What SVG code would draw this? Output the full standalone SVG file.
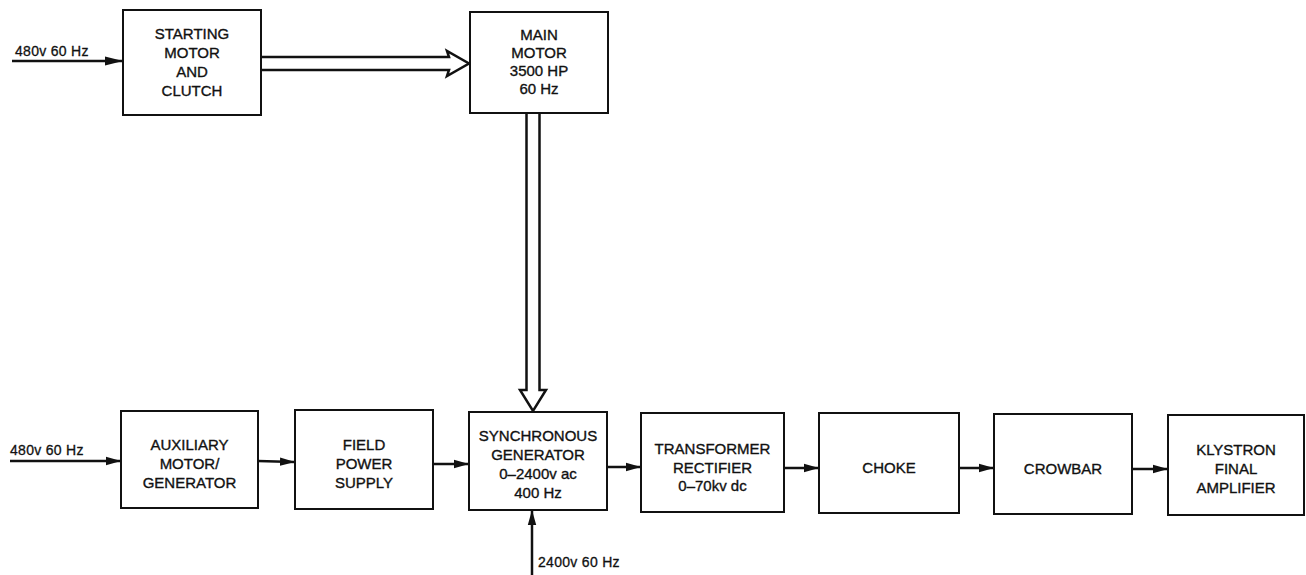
<svg xmlns="http://www.w3.org/2000/svg" width="1306" height="575" viewBox="0 0 1306 575">
<defs>
<marker id="ah" markerWidth="15" markerHeight="10" refX="14" refY="5" orient="auto" markerUnits="userSpaceOnUse">
<path d="M0,0.8 L15,5 L0,9.2 Z" fill="#111"/>
</marker>
<marker id="ahL" markerWidth="18" markerHeight="10" refX="17" refY="5" orient="auto" markerUnits="userSpaceOnUse">
<path d="M0,0.5 L18,5 L0,9.5 Z" fill="#111"/>
</marker>
<style>
.box{fill:#fff;stroke:#111;stroke-width:2}
.t{font-family:"Liberation Sans",Arial,sans-serif;font-size:15px;fill:#111;stroke:#111;stroke-width:0.35;text-anchor:middle}
.lbl{font-family:"Liberation Sans",Arial,sans-serif;font-size:14px;letter-spacing:0.3px;fill:#111;stroke:#111;stroke-width:0.3}
.ln{stroke:#111;stroke-width:2.5;fill:none}
.dbl{stroke:#111;stroke-width:2.5;fill:#fff;stroke-linejoin:miter}
</style>
</defs>
<rect width="1306" height="575" fill="#fff"/>
<g id="connectors">
<line class="ln" x1="12" y1="61" x2="122" y2="61" marker-end="url(#ahL)"/>
<line class="ln" x1="10" y1="461" x2="120" y2="461" marker-end="url(#ah)"/>
<line class="ln" x1="258" y1="461" x2="294" y2="462" marker-end="url(#ah)"/>
<line class="ln" x1="433" y1="464" x2="468" y2="464" marker-end="url(#ah)"/>
<line class="ln" x1="607" y1="467" x2="640" y2="467" marker-end="url(#ah)"/>
<line class="ln" x1="784" y1="468" x2="818" y2="468" marker-end="url(#ah)"/>
<line class="ln" x1="959" y1="468" x2="993" y2="468" marker-end="url(#ah)"/>
<line class="ln" x1="1132" y1="469" x2="1167" y2="469" marker-end="url(#ah)"/>
<line class="ln" x1="532" y1="575" x2="532" y2="511" marker-end="url(#ah)"/>
<path class="dbl" d="M262,57 L449,57 L447,51 L469,63.5 L447,76 L449,70 L262,70"/>
<path class="dbl" d="M526.5,114 L526.5,390 L520,390 L533,411 L546,390 L539.5,390 L539.5,114"/>
<text class="lbl" x="15" y="56">480v 60 Hz</text>
<text class="lbl" x="10" y="455">480v 60 Hz</text>
<text class="lbl" x="538" y="567">2400v 60 Hz</text>
</g>
<g id="starting-motor">
<rect class="box" x="123" y="10" width="138" height="105"/>
<text class="t" x="192" y="39">STARTING</text>
<text class="t" x="192" y="58">MOTOR</text>
<text class="t" x="192" y="77">AND</text>
<text class="t" x="192" y="96">CLUTCH</text>
</g>
<g id="main-motor">
<rect class="box" x="470" y="12" width="138" height="101"/>
<text class="t" x="539" y="40">MAIN</text>
<text class="t" x="539" y="58">MOTOR</text>
<text class="t" x="539" y="76">3500 HP</text>
<text class="t" x="539" y="94">60 Hz</text>
</g>
<g id="aux-motor">
<rect class="box" x="121" y="411" width="137" height="97"/>
<text class="t" x="189.5" y="450">AUXILIARY</text>
<text class="t" x="189.5" y="469">MOTOR/</text>
<text class="t" x="189.5" y="488">GENERATOR</text>
</g>
<g id="field-power">
<rect class="box" x="295" y="410" width="138" height="99"/>
<text class="t" x="364" y="450">FIELD</text>
<text class="t" x="364" y="469">POWER</text>
<text class="t" x="364" y="488">SUPPLY</text>
</g>
<g id="sync-gen">
<rect class="box" x="469" y="412" width="138" height="98"/>
<text class="t" x="538" y="441">SYNCHRONOUS</text>
<text class="t" x="538" y="460">GENERATOR</text>
<text class="t" x="538" y="479">0–2400v ac</text>
<text class="t" x="538" y="498">400 Hz</text>
</g>
<g id="transformer">
<rect class="box" x="641" y="413" width="143" height="99"/>
<text class="t" x="712.5" y="454">TRANSFORMER</text>
<text class="t" x="712.5" y="473">RECTIFIER</text>
<text class="t" x="712.5" y="491">0–70kv dc</text>
</g>
<g id="choke">
<rect class="box" x="819" y="413" width="140" height="100"/>
<text class="t" x="889" y="473">CHOKE</text>
</g>
<g id="crowbar">
<rect class="box" x="994" y="414" width="138" height="100"/>
<text class="t" x="1063" y="474">CROWBAR</text>
</g>
<g id="klystron">
<rect class="box" x="1168" y="415" width="136" height="100"/>
<text class="t" x="1236" y="455">KLYSTRON</text>
<text class="t" x="1236" y="474">FINAL</text>
<text class="t" x="1236" y="493">AMPLIFIER</text>
</g>
</svg>
